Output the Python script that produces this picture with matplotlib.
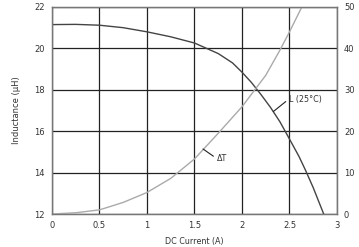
import matplotlib
matplotlib.use('Agg')
import matplotlib.pyplot as plt

# inductance vs DC current
i_L = [0.0, 0.25, 0.5, 0.75, 1.0, 1.25, 1.5, 1.75, 1.9, 2.0, 2.1, 2.2, 2.3, 2.4, 2.5, 2.6, 2.67, 2.75, 2.86]
L = [21.15, 21.16, 21.12, 21.0, 20.8, 20.56, 20.26, 19.75, 19.3, 18.85, 18.35, 17.77, 17.15, 16.45, 15.62, 14.78, 14.1, 13.27, 12.0]

# temperature rise vs DC current
i_T = [0.0, 0.25, 0.5, 0.75, 1.0, 1.25, 1.5, 1.75, 2.0, 2.25, 2.4, 2.5, 2.63]
dT = [0.0, 0.3, 1.0, 2.8, 5.2, 8.6, 13.3, 19.5, 25.9, 33.5, 39.6, 44.0, 50.0]

x_ticks = [0, 0.5, 1, 1.5, 2, 2.5, 3]
x_labels = ['0', '0.5', '1', '1.5', '2', '2.5', '3']
yL_ticks = [12, 14, 16, 18, 20, 22]
yT_ticks = [0, 10, 20, 30, 40, 50]

txt = '#333333'
fig = plt.figure(figsize=(3.59, 2.47), dpi=100)
ax = fig.add_axes([0.1448, 0.1336, 0.7939, 0.8381])
ax2 = ax.twinx()

ax.set_xlim(0, 3)
ax.set_ylim(12, 22)
ax2.set_ylim(0, 50)
ax.set_xticks(x_ticks, x_labels)
ax.set_yticks(yL_ticks)
ax2.set_yticks(yT_ticks)
ax.grid(True, color='#222222', lw=0.9)

for a in (ax, ax2):
    a.tick_params(length=0, labelsize=6, labelcolor=txt)
    for s in a.spines.values():
        s.set_color('#777777')
        s.set_linewidth(0.9)
ax.tick_params(axis='y', pad=5)
ax2.tick_params(axis='y', pad=5)
ax.tick_params(axis='x', pad=5)

ax.plot(i_L, L, color='#444444', lw=1.0)
ax2.plot(i_T, dT, color='#aaaaaa', lw=1.0)

ax.set_xlabel('DC Current (A)', fontsize=5.8, color=txt, labelpad=5)
ax.set_ylabel('Inductance (µH)', fontsize=6.0, color=txt, labelpad=10)

# leaders and labels
ax2.annotate('ΔT', xy=(1.59, 15.7), xytext=(1.74, 13.3), fontsize=5.8, color=txt,
             va='center', ha='left',
             arrowprops=dict(arrowstyle='-', color='#222222', lw=0.8,
                             shrinkA=1, shrinkB=0, relpos=(0, 0.5)))
ax.annotate('L (25°C)', xy=(2.33, 16.95), xytext=(2.49, 17.54), fontsize=5.8, color=txt,
            va='center', ha='left', zorder=5,
            arrowprops=dict(arrowstyle='-', color='#222222', lw=0.8,
                            shrinkA=0, shrinkB=0, relpos=(0, 0.5)))

fig.savefig('out.png', dpi=100)
